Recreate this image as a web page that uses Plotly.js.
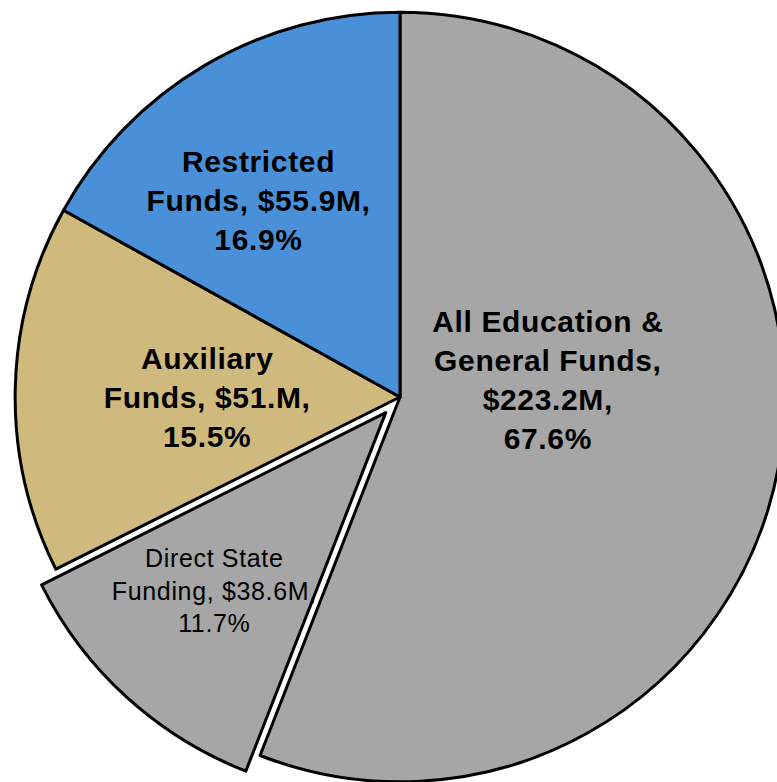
<!DOCTYPE html>
<html><head><meta charset="utf-8">
<script src="https://cdn.plot.ly/plotly-3.0.1.min.js"></script>
<style>
html,body{margin:0;padding:0;overflow:hidden;background:#fff;width:777px;height:782px;}
#chart{position:absolute;left:-6px;top:-9px;width:812px;height:812px;}
#chart .annotation-text{letter-spacing:0.65px;}
</style></head><body>
<div id="chart"></div>
<script>
// Slice data (millions of dollars)
const sliceNames = ["All Education & General Funds", "Direct State Funding", "Auxiliary Funds", "Restricted Funds"];
const sliceValues = [184.6, 38.6, 51.0, 55.9];
// Displayed label texts (E&G label shows its combined total incl. direct state funding)
const labelLines = [
  ["All Education &", "General Funds,", "$223.2M,", "67.6%"],
  ["Direct State", "Funding, $38.6M,", "11.7%"],
  ["Auxiliary", "Funds, $51.M,", "15.5%"],
  ["Restricted", "Funds, $55.9M,", "16.9%"]
];
const labelBold = [true, false, true, true];
const sliceColors = ["#A5A6A5", "#A5A6A5", "#CFB97D", "#4A90D9"];
const slicePull = [0, 0.055, 0, 0];

// label anchor positions (paper fractions)
const labelPos = [
  [(548 + 6) / 812, 1 - (380 + 9) / 812],
  [(215 + 6) / 812, 1 - (590 + 9) / 812],
  [(207 + 6) / 812, 1 - (397 + 9) / 812],
  [(258 + 6) / 812, 1 - (201 + 9) / 812]
];

const trace = {
  type: "pie",
  labels: sliceNames,
  values: sliceValues,
  textinfo: "none",
  sort: false,
  direction: "clockwise",
  rotation: 0,
  pull: slicePull,
  marker: {colors: sliceColors, line: {color: "#000", width: 3}},
  hoverinfo: "none",
  showlegend: false
};

const annotations = labelLines.map((lines, i) => ({
  xref: "paper", yref: "paper",
  x: labelPos[i][0], y: labelPos[i][1],
  xanchor: "center", yanchor: "middle",
  showarrow: false,
  text: lines.join("<br>"),
  align: "center",
  font: {
    family: "Liberation Sans, Arial, sans-serif",
    size: labelBold[i] ? 30 : 25,
    color: "#000",
    weight: labelBold[i] ? "bold" : "normal"
  }
}));

Plotly.newPlot("chart", [trace], {
  width: 812, height: 812,
  margin: {l: 0, r: 0, t: 0, b: 0},
  paper_bgcolor: "#fff",
  showlegend: false,
  annotations: annotations
}, {displayModeBar: false, staticPlot: true});
</script>
</body></html>
